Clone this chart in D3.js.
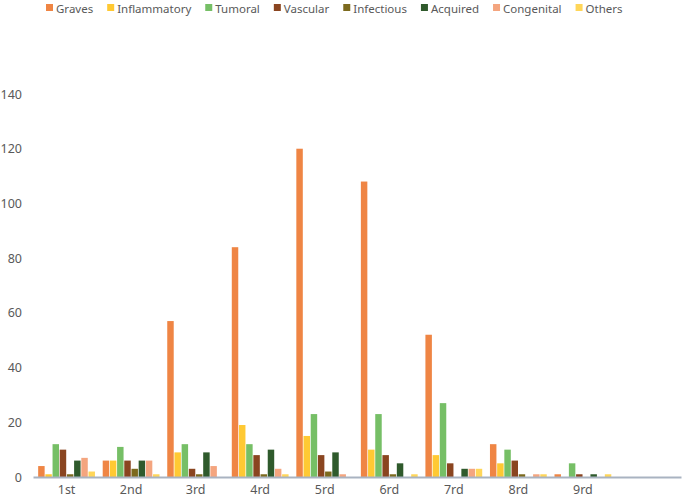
<!DOCTYPE html>
<html>
<head>
<meta charset="utf-8">
<script src="https://cdn.jsdelivr.net/npm/d3@7"></script>
<style>
  body { margin: 0; background: #fff; }
  text { font-family: "Noto Sans", "Open Sans", sans-serif; fill: #595959; }
</style>
</head>
<body>
<svg id="chart" width="682" height="500"></svg>
<script>
//#region DATA /////////////////////////////////////////////////////////////////

// x categories (the tenth slot is empty in the original)
const categories = ["1st", "2nd", "3rd", "4rd", "5rd", "6rd", "7rd", "8rd", "9rd", ""];
const seriesNames = ["Graves", "Inflammatory", "Tumoral", "Vascular",
                     "Infectious", "Acquired", "Congenital", "Others"];
const seriesColors = ["#ef8544", "#ffc933", "#76bf66", "#8a4520",
                      "#7c6a1e", "#2f5a2c", "#f4a57f", "#ffd659"];

const graves       = [4, 6, 57, 84, 120, 108, 52, 12, 1];
const inflammatory = [1, 6, 9, 19, 15, 10, 8, 5, 0];
const tumoral      = [12, 11, 12, 12, 23, 23, 27, 10, 5];
const vascular     = [10, 6, 3, 8, 8, 8, 5, 6, 1];
const infectious   = [1, 3, 1, 1, 2, 1, 0, 1, 0];
const acquired     = [6, 6, 9, 10, 9, 5, 3, 0, 1];
const congenital   = [7, 6, 4, 3, 1, 0, 3, 1, 0];
const others       = [2, 1, 0, 1, 0, 1, 3, 1, 1];

const yTicks = [0, 20, 40, 60, 80, 100, 120, 140];

//#endregion

const seriesValues = [graves, inflammatory, tumoral, vascular,
                      infectious, acquired, congenital, others];

const svg = d3.select("#chart");

// scales
const x0 = d3.scaleBand().domain(categories).range([33, 681])
    .paddingInner(0.12).paddingOuter(0.08);
const x1 = d3.scaleBand().domain(seriesNames).range([0, x0.bandwidth()])
    .paddingInner(0.1);
const y = d3.scaleLinear().domain([0, 140]).range([477, 94]);
const color = d3.scaleOrdinal().domain(seriesNames).range(seriesColors);

// y axis (labels only)
const yAxis = svg.append("g")
    .attr("transform", "translate(22,0)")
    .call(d3.axisLeft(y).tickValues(yTicks).tickSize(0).tickPadding(0));
yAxis.select(".domain").remove();
yAxis.selectAll("text").attr("font-size", 12.5).attr("fill", "#595959")
    .attr("font-family", null);

// bars
const groups = svg.append("g").selectAll("g")
    .data(categories.filter(c => c !== ""))
    .join("g")
    .attr("transform", d => "translate(" + x0(d) + ",0)");

groups.selectAll("rect")
    .data((c, i) => seriesNames.map((s, k) => ({ s: s, v: seriesValues[k][i] })))
    .join("rect")
    .attr("x", d => x1(d.s))
    .attr("width", x1.bandwidth())
    .attr("y", d => y(d.v))
    .attr("height", d => y(0) - y(d.v))
    .attr("fill", d => color(d.s));

// x axis
const xAxis = svg.append("g")
    .attr("transform", "translate(0," + y(0) + ")")
    .call(d3.axisBottom(x0).tickSize(0).tickPadding(8).tickSizeOuter(0));
xAxis.select(".domain").attr("stroke", "#a9b3c1").attr("stroke-width", 2);
xAxis.selectAll("text").attr("font-size", 12.5).attr("fill", "#595959")
    .attr("font-family", null);

// legend
const legend = svg.append("g");
let lx = 46;
seriesNames.forEach(s => {
  legend.append("rect")
      .attr("x", lx).attr("y", 4).attr("width", 7).attr("height", 7)
      .attr("fill", color(s));
  const t = legend.append("text")
      .attr("x", lx + 10).attr("y", 12.5)
      .attr("font-size", 11.5)
      .text(s);
  lx += 10 + t.node().getComputedTextLength() + 14;
});
</script>
</body>
</html>
